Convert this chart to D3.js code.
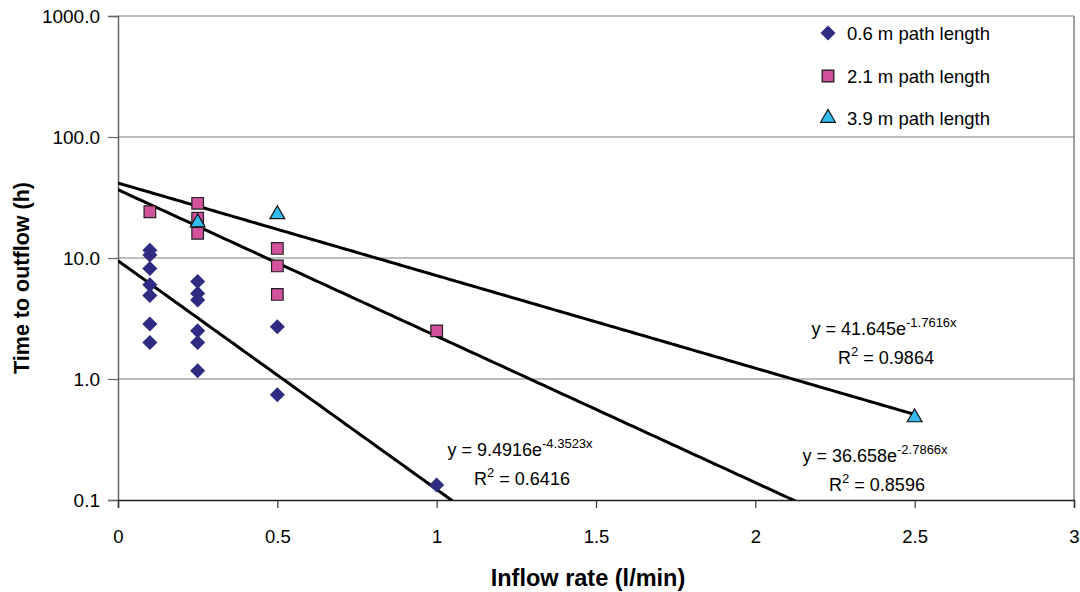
<!DOCTYPE html>
<html>
<head>
<meta charset="utf-8">
<script src="https://cdn.jsdelivr.net/npm/d3@7"></script>
<style>
  html, body { margin: 0; padding: 0; background: #fff; }
  svg { display: block; font-family: "Liberation Sans", Arial, sans-serif; }
</style>
</head>
<body>
<svg id="chart" width="1080" height="592"></svg>
<script>
// Inflow rate (l/min) and time to outflow (h) for each path length
const xs06 = [0.1, 0.1, 0.1, 0.1, 0.1, 0.1, 0.1, 0.25, 0.25, 0.25, 0.25, 0.25, 0.25, 0.5, 0.5, 1.0];
const ys06 = [11.6, 10.6, 8.2, 6.0, 4.9, 2.85, 2.0, 6.4, 5.1, 4.5, 2.5, 2.0, 1.17, 2.7, 0.74, 0.133];

const xs21 = [0.1, 0.25, 0.25, 0.25, 0.5, 0.5, 0.5, 1.0];
const ys21 = [24.1, 28.3, 21.3, 16.0, 12.0, 8.6, 5.0, 2.5];

const xs39 = [0.25, 0.5, 2.5];
const ys39 = [20.0, 23.4, 0.49];

// Exponential trendlines y = a * e^(b x)
const trendA = [9.4916, 36.658, 41.645];
const trendB = [-4.3523, -2.7866, -1.7616];
const trendR2 = ["0.6416", "0.8596", "0.9864"];
const trendXEnd = [3, 3, 2.5];

const seriesNames = ["0.6 m path length", "2.1 m path length", "3.9 m path length"];
const xTicks = [0, 0.5, 1, 1.5, 2, 2.5, 3];
const yTicks = [0.1, 1, 10, 100, 1000];

const svg = d3.select("#chart");
const plotLeft = 118, plotRight = 1074, plotTop = 16, plotBottom = 500;

const x = d3.scaleLinear().domain([0, 3]).range([plotLeft, plotRight]);
const y = d3.scaleLog().domain([0.1, 1000]).range([plotBottom, plotTop]);

// horizontal gridlines
svg.append("g").selectAll("line").data(yTicks.slice(1)).join("line")
  .attr("x1", plotLeft).attr("x2", plotRight)
  .attr("y1", d => y(d)).attr("y2", d => y(d))
  .attr("stroke", "#7f7f7f").attr("stroke-width", 1.2);

// right border
svg.append("line").attr("x1", plotRight).attr("x2", plotRight).attr("y1", plotTop).attr("y2", plotBottom)
  .attr("stroke", "#7f7f7f").attr("stroke-width", 1.5);

// y axis
const yAxis = svg.append("g").attr("transform", `translate(${plotLeft},0)`)
  .call(d3.axisLeft(y).tickValues(yTicks).tickFormat(d3.format(".1f")).tickSize(10).tickPadding(8));
yAxis.select(".domain").attr("stroke", "#666").attr("stroke-width", 1.5);
yAxis.selectAll(".tick line").attr("stroke", "#666").attr("stroke-width", 1.2);
yAxis.selectAll("text").attr("font-size", 19).attr("fill", "#000")
  .attr("font-family", "Liberation Sans, Arial, sans-serif");

// x axis
const xAxis = svg.append("g").attr("transform", `translate(0,${plotBottom})`)
  .call(d3.axisBottom(x).tickValues(xTicks).tickFormat(d => d3.format("")(d)).tickSize(8).tickPadding(22));
xAxis.select(".domain").attr("stroke", "#222").attr("stroke-width", 1.5);
xAxis.selectAll(".tick line").attr("stroke", "#333").attr("stroke-width", 1.2);
xAxis.selectAll("text").attr("font-size", 18.5).attr("fill", "#000")
  .attr("font-family", "Liberation Sans, Arial, sans-serif");

// trendlines, clipped to the plot area
svg.append("clipPath").attr("id", "plotClip").append("rect")
  .attr("x", plotLeft).attr("y", plotTop).attr("width", plotRight - plotLeft).attr("height", plotBottom - plotTop);
const trendG = svg.append("g").attr("clip-path", "url(#plotClip)");
trendA.forEach((a, i) => {
  const pts = d3.range(0, 201).map(k => {
    const xv = trendXEnd[i] * k / 200;
    return [xv, a * Math.exp(trendB[i] * xv)];
  }).filter(p => p[1] > 0.05);
  trendG.append("path")
    .attr("d", d3.line().x(p => x(p[0])).y(p => y(Math.max(p[1], 0.05)))(pts))
    .attr("fill", "none").attr("stroke", "#000").attr("stroke-width", 3);
});

// markers
const diamond = d3.symbol().type(d3.symbolDiamond2).size(145);
const square = d3.symbol().type(d3.symbolSquare).size(135);
const triangle = d3.symbol().type(d3.symbolTriangle).size(95);

const colors = ["#2e2b80", "#d2529c", "#33bbee"];

svg.append("g").selectAll("path").data(d3.zip(xs06, ys06)).join("path")
  .attr("d", diamond).attr("transform", d => `translate(${x(d[0])},${y(d[1])})`)
  .attr("fill", colors[0]);

svg.append("g").selectAll("path").data(d3.zip(xs21, ys21)).join("path")
  .attr("d", square).attr("transform", d => `translate(${x(d[0])},${y(d[1])})`)
  .attr("fill", colors[1]).attr("stroke", "#222").attr("stroke-width", 1.2);

svg.append("g").selectAll("path").data(d3.zip(xs39, ys39)).join("path")
  .attr("d", triangle).attr("transform", d => `translate(${x(d[0])},${y(d[1]) + 1})`)
  .attr("fill", colors[2]).attr("stroke", "#111").attr("stroke-width", 1.2);

// trendline equations
function equation(a, b, r2, cx, cy) {
  const t = svg.append("text").attr("x", cx).attr("y", cy).attr("text-anchor", "middle")
    .attr("font-size", 18).attr("fill", "#000");
  t.append("tspan").text(`y = ${a}e`);
  t.append("tspan").attr("dy", -8).attr("font-size", 13).text(`${b}x`);
  const r = svg.append("text").attr("x", cx + 2).attr("y", cy + 29).attr("text-anchor", "middle")
    .attr("font-size", 18).attr("fill", "#000");
  r.append("tspan").text("R");
  r.append("tspan").attr("dy", -8).attr("font-size", 13).text("2");
  r.append("tspan").attr("dy", 8).text(` = ${r2}`);
}
equation("9.4916", "-4.3523", trendR2[0], 520, 456);
equation("36.658", "-2.7866", trendR2[1], 875, 462);
equation("41.645", "-1.7616", trendR2[2], 884, 335);

// legend
const legendY = [33, 76, 118];
const legendShapes = [diamond, square, triangle];
seriesNames.forEach((name, i) => {
  const g = svg.append("g").attr("transform", `translate(828,${legendY[i]})`);
  const m = g.append("path").attr("d", legendShapes[i]).attr("fill", colors[i]);
  if (i > 0) m.attr("stroke", "#111").attr("stroke-width", 1.2);
  g.append("text").attr("x", 19).attr("y", 6.5).attr("font-size", 18.5).attr("fill", "#000").text(name);
});

// axis titles
svg.append("text").attr("x", 588).attr("y", 586).attr("text-anchor", "middle")
  .attr("font-size", 23.5).attr("font-weight", "bold").attr("fill", "#000")
  .text("Inflow rate (l/min)");
svg.append("text").attr("transform", "translate(29,278) rotate(-90)").attr("text-anchor", "middle")
  .attr("font-size", 21.5).attr("font-weight", "bold").attr("fill", "#000")
  .text("Time to outflow (h)");
</script>
</body>
</html>
